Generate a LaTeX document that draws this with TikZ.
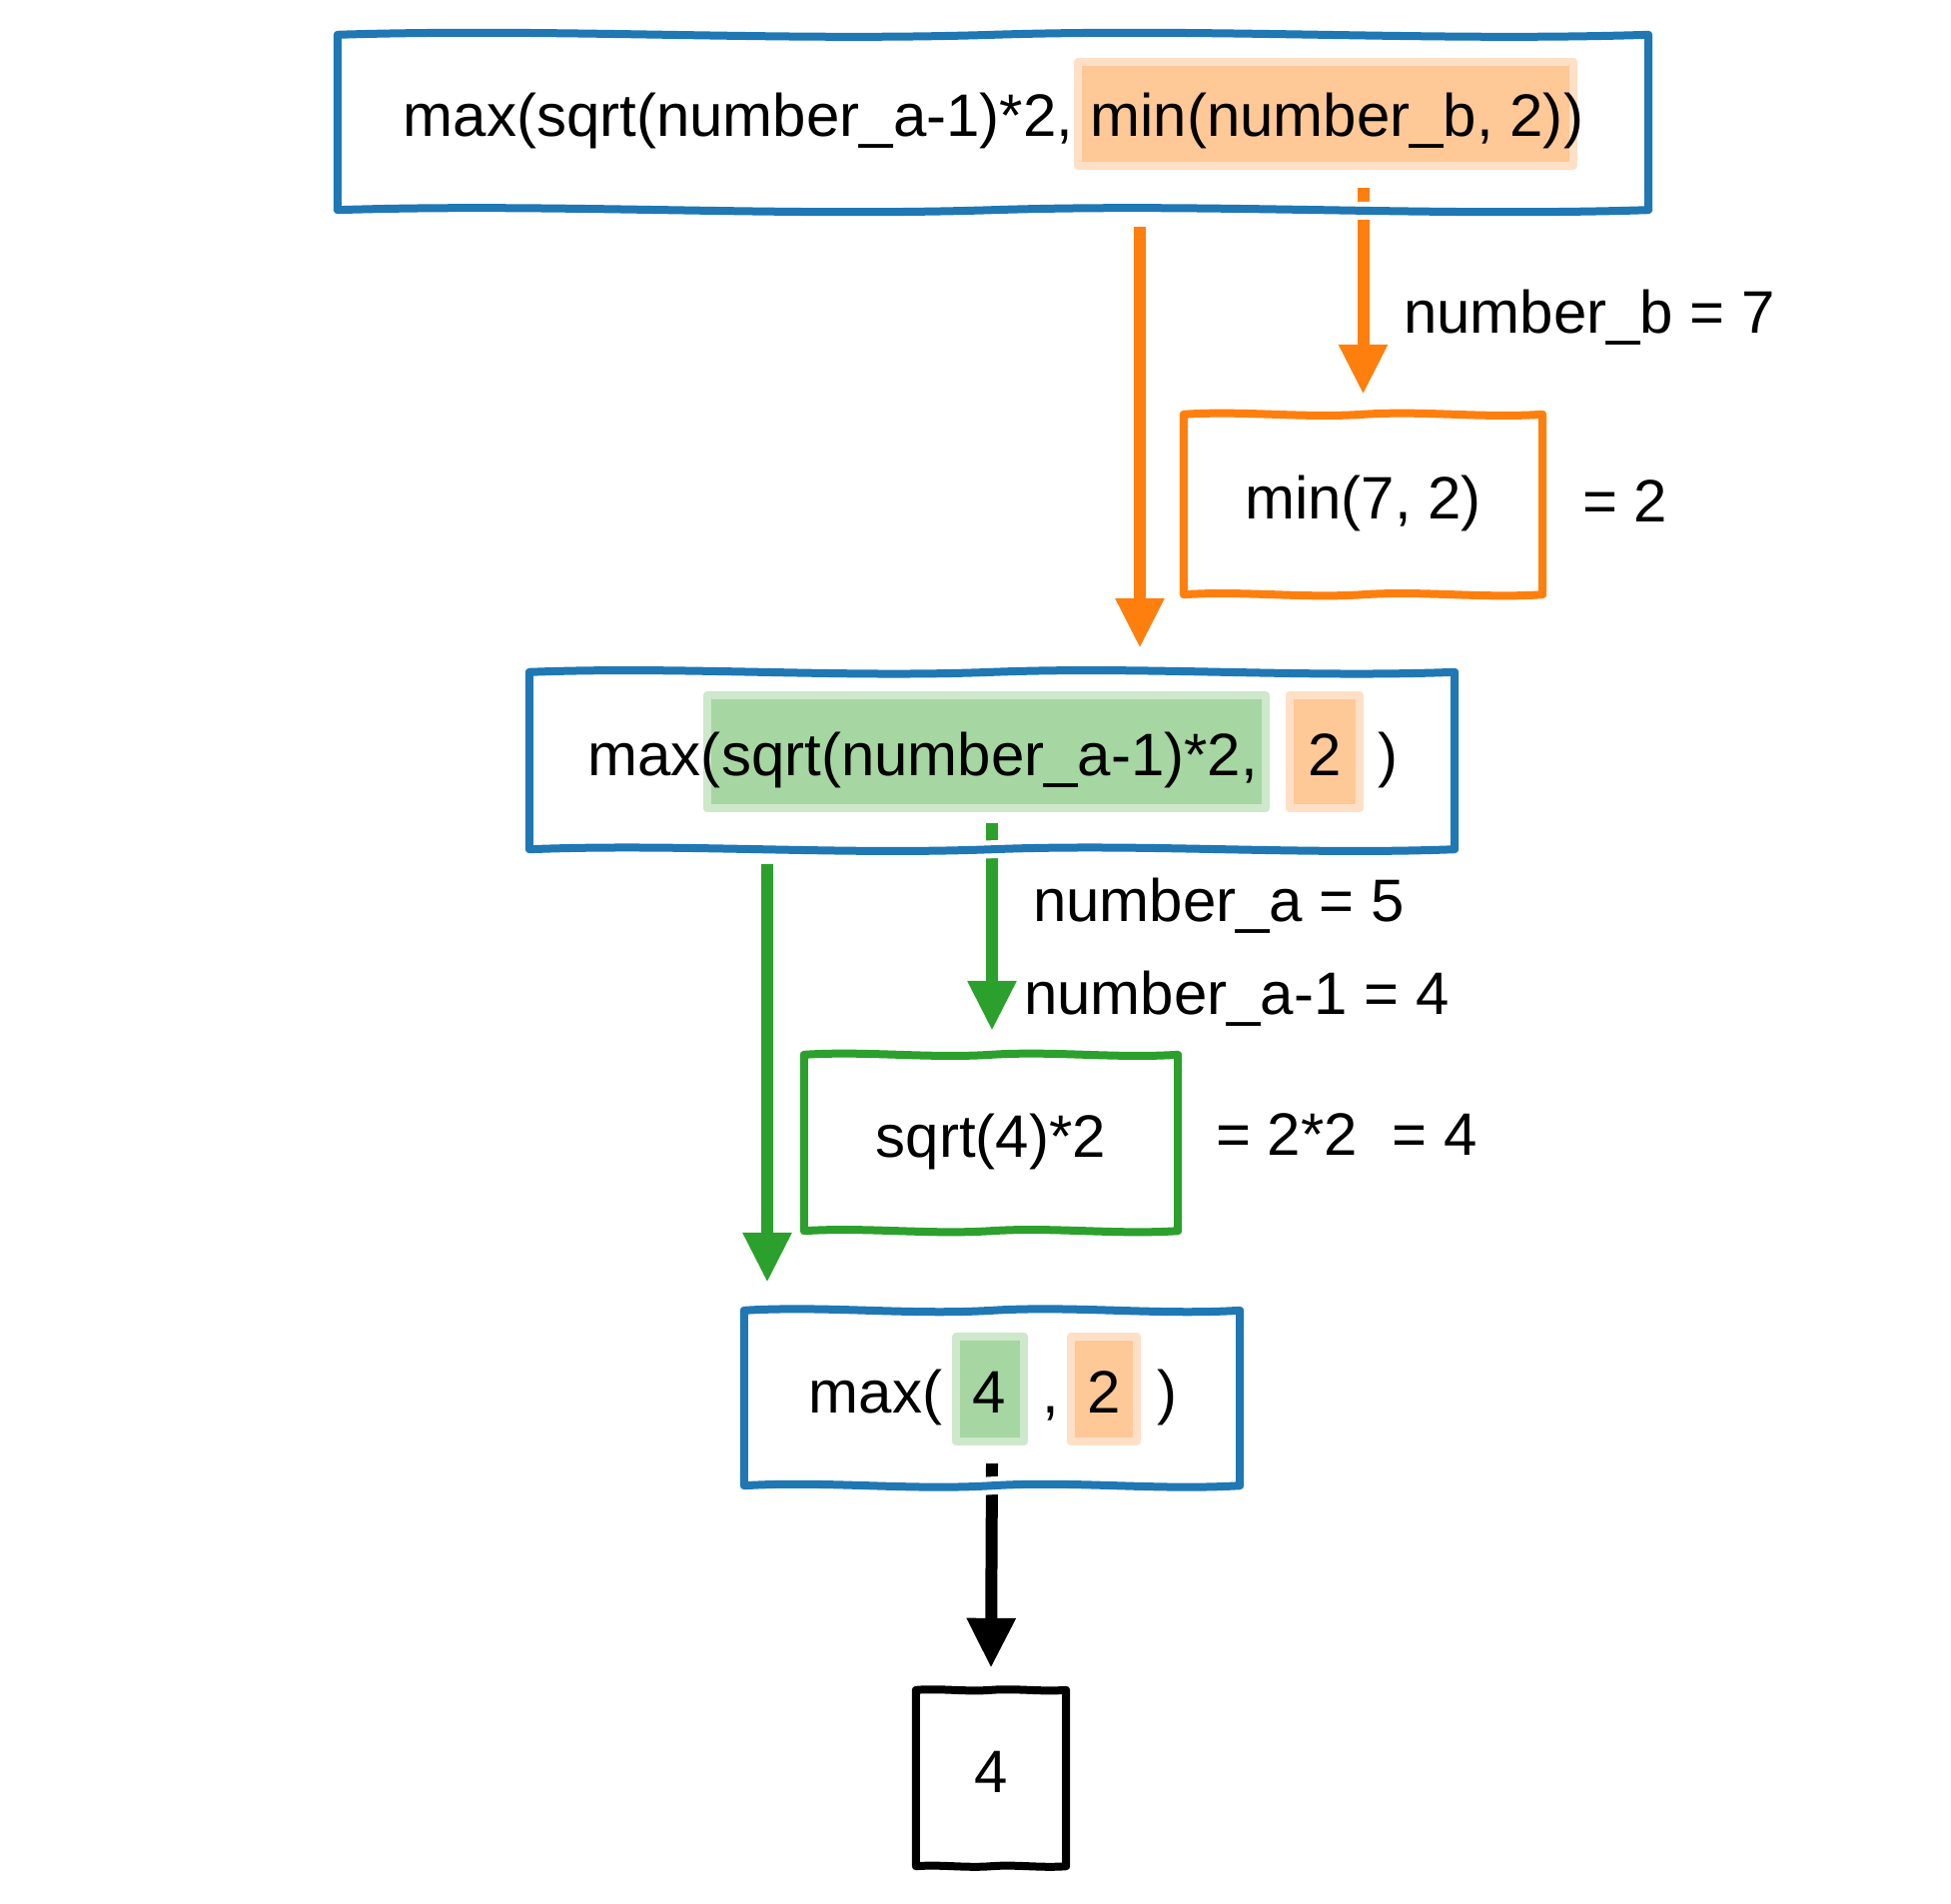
\documentclass[tikz,border=0pt]{standalone}
\usepackage{fontspec}
\setmainfont{Liberation Sans}
\usetikzlibrary{arrows.meta,calc}
\definecolor{tblue}{HTML}{1F77B4}
\definecolor{torange}{HTML}{FF7F0E}
\definecolor{tgreen}{HTML}{2CA02C}
\definecolor{hlOin}{HTML}{FFC897}
\definecolor{hlOout}{HTML}{FFE0C6}
\definecolor{hlGin}{HTML}{A6D6A1}
\definecolor{hlGout}{HTML}{CDE8CA}
\pgfdeclarelayer{bg}
\pgfsetlayers{bg,main}
\tikzset{
  every node/.style={font=\fontsize{60}{72}\selectfont, text=black},
  box/.style={inner sep=0pt, text height=44pt, text depth=15pt},
  boxline/.style={draw=#1, line width=8pt, line join=round, line cap=round,
    preaction={draw=white, line width=18pt}},
  txt/.style={inner sep=0pt, anchor=base west},
  hlorange/.style={fill=hlOin, draw=hlOout, line width=8pt, line join=round},
  hlgreen/.style={fill=hlGin, draw=hlGout, line width=8pt, line join=round},
  arr/.style={draw=#1, line width=12pt, -{Triangle[length=50pt, width=46pt]}}
}
% hand-drawn looking border round a node: #1 node, #2 colour, #3 wave amplitude
\newcommand\wobblebox[3]{%
  \draw[boxline=#2] (#1.north west)
    .. controls ($(#1.north west)!.333!(#1.north)+(0,-#3)$) and ($(#1.north west)!.667!(#1.north)+(0,#3)$) .. (#1.north)
    .. controls ($(#1.north)!.333!(#1.north east)+(0,-#3)$) and ($(#1.north)!.667!(#1.north east)+(0,#3)$) .. (#1.north east)
    -- (#1.south east)
    .. controls ($(#1.south east)!.333!(#1.south)+(0,#3)$) and ($(#1.south east)!.667!(#1.south)+(0,-#3)$) .. (#1.south)
    .. controls ($(#1.south)!.333!(#1.south west)+(0,#3)$) and ($(#1.south)!.667!(#1.south west)+(0,-#3)$) .. (#1.south west)
    -- cycle;}
\begin{document}
\begin{tikzpicture}[x=1pt,y=-1pt]
\useasboundingbox (0,0) rectangle (1953,1905);

% boxes (anchoring nodes)
\node[box, minimum width=1312pt, minimum height=175pt] (b1) at (994,122.5)
  {\phantom{max(sqrt(number\_a-1)*2,\kern.28em min(number\_b, 2))}};
\node[box, minimum width=359pt, minimum height=180pt] (b2) at (1364.5,505) {min(7, 2)};
\node[box, minimum width=926pt, minimum height=177pt] (b3) at (993,761.5)
  {\phantom{max(sqrt(number\_a-1)*2,\kern50pt 2\kern36pt)}};
\node[box, minimum width=374pt, minimum height=176pt] (b4) at (992,1144) {sqrt(4)*2};
\node[box, minimum width=496pt, minimum height=175pt] (b5) at (993,1399.5)
  {\phantom{max(\kern30pt 4\kern36pt,\kern28pt 2\kern36pt)}};
\node[box, minimum width=150pt, minimum height=176pt] (b6) at (992,1780) {4};

% text of box 1
\node[txt] (t1a) at (b1.text) {max(sqrt(number\_a-1)*2,\kern.28em};
\node[txt] (t1b) at (t1a.base east) {min(number\_b, 2)};
\node[txt] (t1c) at (t1b.base east) {)};

% text of box 3
\node[txt] (t3a) at (b3.text) {max(};
\node[txt] (t3b) at (t3a.base east) {sqrt(number\_a-1)*2,};
\node[txt] (t3c) at ($(t3b.base east)+(50,0)$) {2};
\node[txt] (t3d) at ($(t3c.base east)+(36,0)$) {)};

% text of box 5
\node[txt] (t5a) at (b5.text) {max(};
\node[txt] (t5b) at ($(t5a.base east)+(30,0)$) {4};
\node[txt] (t5c) at ($(t5b.base east)+(36,0)$) {,};
\node[txt] (t5d) at ($(t5c.base east)+(28,0)$) {2};
\node[txt] (t5e) at ($(t5d.base east)+(36,0)$) {)};

% labels
\node[txt] (lb) at (1405,333) {number\_b = 7};
\node[txt] (l2) at (1584,522) {= 2};
\node[txt] (la) at (1034,922) {number\_a = 5};
\node[txt] (la1) at (1025,1015) {number\_a-1 = 4};
\node[txt] (l4) at (1217,1156) {= 2*2\kern35pt= 4};

% borders
\wobblebox{b1}{tblue}{7}
\wobblebox{b2}{torange}{4}
\wobblebox{b3}{tblue}{6}
\wobblebox{b4}{tgreen}{4}
\wobblebox{b5}{tblue}{5}
\wobblebox{b6}{black}{2}

\begin{pgfonlayer}{bg}
  % highlights
  \path[hlorange] ($(t1b.base west)+(-12,-75)$) rectangle ($(t1b.base east)+(10,29)$);
  \path[hlgreen] ($(t3b.base west)+(-14,-80)$) rectangle ($(t3b.base east)+(8,33)$);
  \path[hlorange] ($(t3c.base west)+(-18,-80)$) rectangle ($(t3c.base east)+(18,33)$);
  \path[hlgreen] ($(t5b.base west)+(-16,-76)$) rectangle ($(t5b.base east)+(18,29)$);
  \path[hlorange] ($(t5d.base west)+(-16,-76)$) rectangle ($(t5d.base east)+(16,29)$);
  % connectors
  \draw[arr=torange] ($(b1.south)+(147,17)$) -- ($(b3.north)+(148,-24)$);
  \draw[arr=torange] ($(b1.south -| b2.north)+(0,-22)$) -- ($(b2.north)+(0,-20)$);
  \draw[arr=tgreen] ($(b3.south)+(-225,15)$) -- ($(b5.north)+(-225,-28)$);
  \draw[arr=tgreen] ($(b3.south)+(0,-26)$) -- ($(b4.north)+(1,-24)$);
  \draw[arr=black] ($(b5.south)+(0,-22)$) -- ($(b6.north)+(0,-22)$);
\end{pgfonlayer}
\end{tikzpicture}
\end{document}
